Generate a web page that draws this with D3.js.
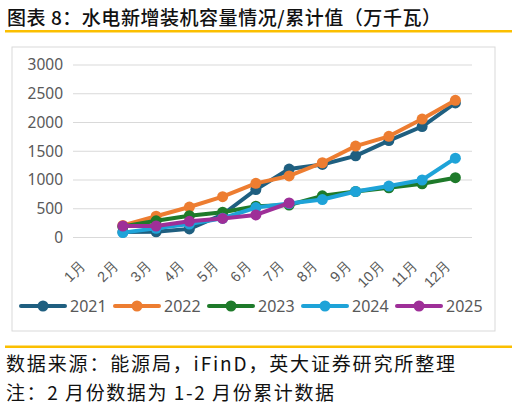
<!DOCTYPE html>
<html>
<head>
<meta charset="utf-8">
<script src="https://cdn.jsdelivr.net/npm/d3@7"></script>
<style>
  body { margin: 0; background: #fff; }
  svg { display: block; font-family: "Noto Sans CJK SC", "Noto Sans", sans-serif; }
</style>
</head>
<body>
<svg id="chart"></svg>
<script>
// Chart data (万千瓦, cumulative)
const months = ["1月", "2月", "3月", "4月", "5月", "6月", "7月", "8月", "9月", "10月", "11月", "12月"];
const years = ["2021", "2022", "2023", "2024", "2025"];
const colors = ["#1f5f80", "#ed7d31", "#1e7a2a", "#1ea3d8", "#9e2f98"];
const yTicks = [0, 500, 1000, 1500, 2000, 2500, 3000];

// null = no data for that month
const v2021 = [null, 95, 100, 150, 400, 835, 1190, 1270, 1420, 1685, 1930, 2340];
const v2022 = [null, 210, 370, 530, 710, 942, 1070, 1300, 1590, 1760, 2060, 2385];
const v2023 = [null, 190, 290, 380, 440, 545, 565, 725, 800, 865, 935, 1040];
const v2024 = [null, 85, 160, 235, 335, 520, 590, 660, 800, 895, 1000, 1380];
const v2025 = [null, 200, 200, 282, 332, 392, 600, null, null, null, null, null];
const seriesValues = [v2021, v2022, v2023, v2024, v2025];

const width = 517, height = 411;
const svg = d3.select("#chart").attr("width", width).attr("height", height);

// Title and yellow rules
svg.append("text")
  .attr("x", 7).attr("y", 25)
  .attr("font-size", 19).attr("font-weight", 500).attr("fill", "#111")
  .attr("textLength", 434).attr("lengthAdjust", "spacing")
  .text("图表 8：水电新增装机容量情况/累计值（万千瓦）");
svg.append("rect").attr("x", 5).attr("y", 30).attr("width", 507).attr("height", 2.5).attr("fill", "#fbbf00");
svg.append("rect").attr("x", 5).attr("y", 345.5).attr("width", 507).attr("height", 2.5).attr("fill", "#fbbf00");

// Chart frame
svg.append("rect")
  .attr("x", 12).attr("y", 47).attr("width", 483).attr("height", 284)
  .attr("fill", "#fff").attr("stroke", "#d9d9d9").attr("stroke-width", 1);

// Scales
const x = d3.scaleBand().domain(months).range([73, 472]);
const y = d3.scaleLinear().domain([0, 3000]).range([237.5, 65]);
const cx = m => x(m) + x.bandwidth() / 2;

// Gridlines
svg.append("g").selectAll("line")
  .data(yTicks).join("line")
  .attr("x1", 73).attr("x2", 472)
  .attr("y1", d => y(d)).attr("y2", d => y(d))
  .attr("stroke", "#d9d9d9").attr("stroke-width", 1);

// Y axis labels
const yAxis = d3.axisLeft(y).tickValues(yTicks).tickSize(0).tickPadding(10).tickFormat(d3.format("d"));
svg.append("g")
  .attr("transform", "translate(73,0)")
  .call(yAxis)
  .call(g => g.select(".domain").remove())
  .call(g => g.selectAll("text")
    .attr("font-size", 15.5).attr("fill", "#595959")
    .attr("font-family", "Noto Sans, sans-serif"));

// X axis labels, rotated
const xAxis = d3.axisBottom(x).tickSize(0).tickPadding(0);
svg.append("g")
  .attr("transform", "translate(0,244)")
  .call(xAxis)
  .call(g => g.select(".domain").remove())
  .call(g => g.selectAll("text")
    .attr("font-size", 14.5).attr("fill", "#595959")
    .attr("text-anchor", "end")
    .attr("y", 0)
    .attr("dy", "0.35em")
    .attr("transform", "translate(-7,19) rotate(-45)"));

// Series lines and markers
const line = d3.line()
  .defined(d => d.v != null)
  .x(d => cx(d.m))
  .y(d => y(d.v));

years.forEach((yr, i) => {
  const pts = months.map((m, j) => ({ m: m, v: seriesValues[i][j] }));
  const g = svg.append("g");
  g.append("path")
    .datum(pts)
    .attr("d", line)
    .attr("fill", "none")
    .attr("stroke", colors[i])
    .attr("stroke-width", 4)
    .attr("stroke-linejoin", "round");
  g.selectAll("circle")
    .data(pts.filter(d => d.v != null)).join("circle")
    .attr("cx", d => cx(d.m))
    .attr("cy", d => y(d.v))
    .attr("r", 5.5)
    .attr("fill", colors[i]);
});

// Legend
const legend = svg.append("g").attr("transform", "translate(21,306)");
years.forEach((yr, i) => {
  const item = legend.append("g").attr("transform", `translate(${i * 94},0)`);
  item.append("line")
    .attr("x1", 0).attr("x2", 44).attr("y1", 0).attr("y2", 0)
    .attr("stroke", colors[i]).attr("stroke-width", 4).attr("stroke-linecap", "round");
  item.append("circle").attr("cx", 22).attr("cy", 0).attr("r", 5.5).attr("fill", colors[i]);
  item.append("text")
    .attr("x", 49).attr("y", 0).attr("dy", "0.35em")
    .attr("font-size", 16).attr("fill", "#595959")
    .attr("font-family", "Noto Sans, sans-serif")
    .text(yr);
});

// Footnotes
svg.append("text")
  .attr("x", 6).attr("y", 371)
  .attr("font-size", 19).attr("fill", "#111")
  .attr("textLength", 449).attr("lengthAdjust", "spacing")
  .text("数据来源：能源局，iFinD，英大证券研究所整理");
svg.append("text")
  .attr("x", 6).attr("y", 400)
  .attr("font-size", 19).attr("fill", "#111")
  .attr("textLength", 328).attr("lengthAdjust", "spacing")
  .text("注：2 月份数据为 1-2 月份累计数据");
</script>
</body>
</html>
